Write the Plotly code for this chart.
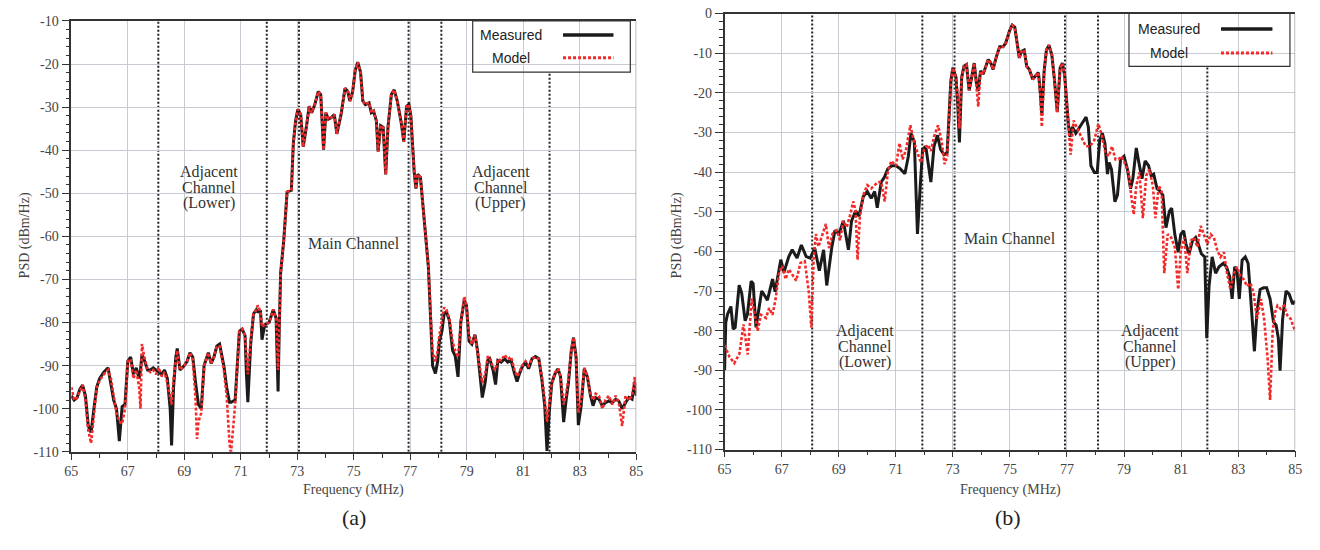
import plotly.graph_objects as go

# ---------------- data ----------------
FREQ_A = [65.0,65.1,65.2,65.3,65.4,65.5,65.6,65.7,65.8,65.9,
          66.0,66.15,66.3,66.4,66.5,66.6,66.7,66.8,66.9,67.0,
          67.1,67.2,67.3,67.4,67.45,67.5,67.6,67.7,67.8,67.9,
          68.0,68.1,68.2,68.3,68.4,68.5,68.55,68.62,68.7,68.75,
          68.85,69.0,69.1,69.2,69.3,69.4,69.45,69.5,69.6,69.7,
          69.8,69.85,69.95,70.05,70.15,70.25,70.4,70.5,70.6,70.65,
          70.8,70.9,70.95,71.05,71.15,71.2,71.25,71.35,71.45,71.55,
          71.6,71.7,71.75,71.85,72.0,72.1,72.15,72.25,72.32,72.36,
          72.41,72.52,72.64,72.79,72.86,72.94,73.02,73.12,73.21,73.32,
          73.42,73.51,73.62,73.74,73.83,73.93,74.01,74.10,74.21,74.31,
          74.40,74.55,74.69,74.79,74.86,74.96,75.05,75.14,75.24,75.32,
          75.41,75.54,75.62,75.70,75.80,75.86,75.95,76.04,76.13,76.21,
          76.33,76.43,76.54,76.67,76.77,76.87,76.95,77.02,77.08,77.14,
          77.2,77.26,77.36,77.46,77.58,77.64,77.72,77.79,77.89,77.97,
          78.03,78.12,78.2,78.28,78.38,78.5,78.59,78.69,78.79,78.91,
          78.99,79.08,79.18,79.29,79.38,79.47,79.55,79.65,79.74,79.81,
          79.93,80.02,80.1,80.22,80.34,80.45,80.57,80.69,80.78,80.87,
          80.96,81.08,81.19,81.31,81.43,81.55,81.66,81.76,81.84,81.92,
          82.01,82.13,82.23,82.32,82.43,82.52,82.6,82.7,82.78,82.87,
          82.95,83.05,83.16,83.27,83.38,83.47,83.56,83.68,83.8,83.91,
          84.03,84.15,84.27,84.38,84.5,84.62,84.74,84.85,84.95,85.0]

MEAS_A = [-97,-98,-97.5,-95.5,-94.5,-97,-104,-105.5,-100,-95,
          -93,-91.5,-90.5,-94,-98,-100,-107.5,-99.5,-99,-89,
          -88,-92,-90.5,-93,-91,-87.5,-89,-91,-91,-90.5,
          -91,-91.5,-92,-91,-93,-100,-108.5,-95,-88,-86,
          -91,-90,-89,-87,-88,-94,-97,-99,-100,-90,
          -88,-87,-89.5,-88,-85.5,-85,-90,-95,-98.5,-98.5,
          -98,-88,-82,-81.5,-83,-92,-98.5,-85,-78,-77,
          -77.5,-77.5,-84,-80.5,-80,-78,-77,-79,-96,-82,
          -68.5,-61,-49.7,-49.3,-38.4,-33.2,-30.5,-31.7,-39.2,-34.7,
          -29.8,-31.3,-29.4,-26.4,-27.1,-39.9,-31.3,-32.8,-32.4,-31.7,
          -36.2,-31.7,-25.6,-26.4,-28.6,-26.4,-21.5,-19.6,-21.9,-28.6,
          -29.4,-29,-31.3,-30.9,-33.2,-40.3,-34.3,-34.7,-45.6,-34.7,
          -27.1,-26,-28.6,-33.2,-38,-29.8,-29.4,-32,-39.2,-45.2,
          -48.9,-45.6,-46.3,-53.5,-61,-67,-79,-90,-91.8,-89,
          -84.3,-82,-77.9,-77.5,-79.4,-86.5,-87.7,-92.6,-79.8,-74.9,
          -76,-84.3,-85,-82.8,-86.5,-91.8,-97.4,-94,-88.8,-88.4,
          -91,-94.4,-88.8,-89.2,-88.4,-89.2,-88.8,-91.8,-93.7,-91.8,
          -90.3,-89.2,-90.7,-88.4,-87.9,-88.4,-93.3,-99.3,-109.8,-100.8,
          -94,-91.8,-90.7,-92.6,-103.1,-97.8,-94,-86.5,-83.5,-88,
          -103.8,-99.3,-90.7,-92.6,-97,-99.3,-97.4,-97.8,-99.3,-98.6,
          -98.2,-98.6,-97.8,-98.2,-100,-98.6,-97.4,-97.8,-93.7,-97]

MODEL_A = [-95,-98,-97.5,-96,-94.5,-98,-105,-108,-101,-95,
           -93.5,-92,-91,-93,-97,-101,-103,-103.5,-100,-89,
           -88.5,-93,-91,-95,-100,-85,-88.5,-91,-91.5,-91,
           -92,-90.5,-92.5,-91.5,-94,-98,-99,-93,-88,-86.5,
           -91,-90,-89,-87,-88.5,-98,-107,-103,-101,-90,
           -88,-87,-89.5,-88,-85.5,-85.5,-91,-97,-108,-110.5,
           -99,-88,-82,-81.5,-83,-88,-92,-84,-78,-77,
           -76,-77.5,-81,-80.5,-80,-78,-77,-79,-91,-82,
           -68.5,-61,-49.7,-49.3,-38.4,-33.2,-30.5,-31.7,-39.2,-34.7,
           -29.8,-31.3,-29.4,-26.4,-27.1,-39.9,-31.3,-32.8,-32.4,-31.7,
           -36.2,-31.7,-25.6,-26.4,-28.6,-26.4,-21.5,-19.6,-21.9,-28.6,
           -29.4,-29,-31.3,-30.9,-33.2,-40.3,-34.3,-34.7,-45.6,-34.7,
           -27.1,-26,-28.6,-33.2,-38,-29.8,-29.4,-32,-39.2,-45.2,
           -48.9,-45.6,-46.3,-53.5,-61,-67,-78,-87,-89,-86.5,
           -83,-80,-76.5,-77,-79,-84.5,-86.5,-88,-80,-74,
           -76,-83,-85,-83,-86.5,-90,-94,-92,-88,-88,
           -90.5,-91,-88.5,-88.8,-87.5,-88.5,-88,-91,-92.5,-91.5,
           -90,-89,-90,-88.4,-88,-88.5,-92.5,-98,-103,-99,
           -94,-91.5,-90.7,-92.5,-99,-96.5,-93,-86.5,-83.5,-88.5,
           -101,-98,-90.5,-92.5,-96.5,-98,-96.5,-97,-100,-98,
           -97,-99,-97,-98.5,-104,-97,-98,-97,-92.5,-96.5]

FREQ_B_MEAS = [65.0,65.04,65.1,65.22,65.3,65.37,65.51,65.6,65.72,65.8,
               65.93,66.0,66.1,66.2,66.3,66.39,66.5,66.68,66.77,66.97,
               67.08,67.25,67.37,67.54,67.69,67.86,68.0,68.16,68.32,68.47,
               68.58,68.76,68.87,69.01,69.16,69.34,69.45,69.59,69.71,69.86,
               70.0,70.14,70.26,70.35,70.49,70.6,70.72,70.86,71.01,71.16,
               71.32,71.44,71.53,71.65,71.76,71.86,71.94,72.05,72.23,72.34,
               72.46,72.57,72.69,72.8,72.88,72.93,73.0,73.11,73.17,73.23,
               73.31,73.39,73.48,73.57,73.66,73.75,73.83,73.89,73.97,74.06,
               74.14,74.24,74.33,74.41,74.53,74.64,74.76,74.85,74.99,75.08,
               75.17,75.24,75.33,75.4,75.5,75.59,75.68,75.8,75.91,76.0,
               76.06,76.12,76.2,76.28,76.37,76.47,76.56,76.66,76.76,76.84,
               76.92,76.98,77.05,77.11,77.19,77.31,77.46,77.67,77.75,77.84,
               77.96,78.06,78.15,78.24,78.33,78.42,78.48,78.56,78.68,78.77,
               78.88,79.0,79.12,79.23,79.31,79.43,79.52,79.63,79.74,79.86,
               79.95,80.04,80.16,80.24,80.36,80.47,80.59,80.67,80.78,80.9,
               80.99,81.09,81.17,81.28,81.4,81.51,81.6,81.71,81.83,81.9,
               81.98,82.09,82.21,82.33,82.48,82.59,82.7,82.79,82.88,82.96,
               83.04,83.14,83.25,83.35,83.46,83.57,83.66,83.77,83.89,84.0,
               84.12,84.24,84.33,84.41,84.47,84.56,84.68,84.79,84.91,85.0]

PSD_B_MEAS = [-90,-78,-75.9,-73.9,-79.6,-79.2,-68.5,-70.6,-77.5,-75.9,
              -67.5,-68.1,-79.2,-75.1,-70,-71,-72.3,-67,-70.2,-62.1,
              -65.3,-61.3,-59.6,-61.7,-58.4,-61.3,-61.7,-59.2,-64.9,-59.6,
              -68.6,-58.8,-54.7,-55.6,-52.3,-59.6,-52.3,-49.8,-51.1,-46.2,
              -44.9,-46.6,-44.9,-49,-42.5,-41.3,-39.2,-38.4,-38.4,-39.2,
              -40.4,-36,-30.2,-32.3,-55.6,-43.3,-34.3,-33.5,-42.5,-33.5,
              -30.7,-34.3,-35.6,-35.1,-25,-17,-13.7,-16.1,-22.7,-32.5,
              -16.1,-13.3,-12.9,-19.4,-16.1,-12.5,-17.8,-19.5,-14.5,-15.3,
              -13.7,-11.6,-12.5,-14.1,-10.8,-8.4,-8.4,-7.5,-4.3,-2.9,
              -3.4,-7.1,-11.2,-9.6,-9.2,-13.3,-14.1,-16.6,-15.7,-14.9,
              -19.4,-25.5,-14.5,-9.2,-8,-10.4,-16.6,-24.8,-13.7,-12.5,
              -15.7,-22,-28,-31.1,-28.6,-30.2,-28.6,-26.1,-28.6,-38.4,
              -40.1,-40.1,-31.9,-30.2,-32.7,-40.5,-37.6,-39.3,-47.5,-45.8,
              -36.8,-36,-39.3,-44.2,-41.7,-33.9,-37.6,-41.7,-37.2,-38.4,
              -40.9,-40.5,-44.2,-44.6,-45.8,-54,-49.9,-49.1,-55.7,-60.2,
              -55.7,-54.8,-58.1,-60.6,-57.3,-56.5,-58.1,-60.6,-61.4,-81.9,
              -68.8,-61.4,-65.5,-63.9,-63,-63.9,-66.3,-72,-63.9,-64.7,
              -72,-62.2,-61.4,-63,-73.7,-85.2,-75.3,-69.6,-69.2,-69.2,
              -72,-77.8,-78.6,-81.9,-90.1,-77,-70,-70.8,-73.3,-72.5]

FREQ_B_MODEL = [65.0,65.17,65.34,65.52,65.66,65.81,65.95,66.04,66.16,66.27,
                66.45,66.56,66.68,66.79,66.91,67.02,67.14,67.25,67.39,67.51,
                67.66,67.81,67.95,68.04,68.12,68.2,68.29,68.41,68.55,68.66,
                68.78,68.93,69.05,69.16,69.28,69.39,69.51,69.59,69.66,69.74,
                69.86,70.0,70.14,70.26,70.38,70.49,70.61,70.72,70.84,71.01,
                71.13,71.24,71.36,71.51,71.65,71.76,71.88,71.99,72.13,72.23,
                72.34,72.48,72.6,72.71,72.8,72.88,72.93,73.0,73.11,73.17,
                73.23,73.31,73.39,73.48,73.57,73.66,73.75,73.83,73.89,73.97,
                74.06,74.14,74.24,74.33,74.41,74.53,74.64,74.76,74.85,74.99,
                75.08,75.17,75.24,75.33,75.4,75.5,75.59,75.68,75.8,75.91,
                76.0,76.06,76.12,76.2,76.28,76.37,76.47,76.56,76.66,76.76,
                76.84,76.92,76.98,77.05,77.13,77.23,77.34,77.52,77.66,77.81,
                77.96,78.1,78.22,78.35,78.47,78.58,78.7,78.81,78.91,79.02,
                79.16,79.25,79.34,79.43,79.54,79.66,79.78,79.89,80.01,80.1,
                80.22,80.32,80.41,80.53,80.65,80.78,80.9,80.99,81.11,81.22,
                81.34,81.46,81.57,81.69,81.8,81.92,82.04,82.15,82.27,82.38,
                82.5,82.61,82.73,82.85,82.96,83.08,83.2,83.31,83.43,83.54,
                83.66,83.8,83.91,84.03,84.12,84.21,84.3,84.38,84.49,84.61,
                84.72,84.84,85.0]

PSD_B_MODEL = [-83.7,-86.6,-88.2,-85.8,-78.4,-86,-71.9,-75.1,-80,-76,
               -76.8,-74.3,-76,-71.9,-65.3,-63.7,-67,-64.5,-66.2,-67.4,
               -62.9,-62.5,-70.2,-79.2,-62.1,-55.6,-58.8,-56.4,-53.1,-59.2,
               -55.6,-54.7,-57.2,-52.3,-53.9,-51.1,-47.4,-49.8,-62.1,-51.5,
               -45.8,-43.3,-44.1,-43.3,-42.5,-42.5,-47.4,-40,-37.2,-38.4,
               -32.7,-36.8,-34.3,-28.2,-32.7,-35.1,-37.6,-34.3,-33.1,-34.7,
               -31.1,-28.2,-31.9,-38,-36,-25,-17,-13.7,-16.1,-21,
               -29,-16.1,-13.3,-12.9,-19.4,-16.1,-12.5,-18.5,-23.5,-14.5,
               -15.3,-13.7,-11.6,-12.5,-14.1,-10.8,-8.4,-8.4,-7.5,-4.3,
               -2.9,-3.4,-7.1,-11.2,-9.6,-9.2,-13.3,-14.1,-16.6,-15.7,
               -14.9,-20,-28.6,-14.5,-9.2,-8,-10.4,-16.6,-25,-13.7,
               -12.5,-15.7,-22,-27.8,-35.6,-27,-28.6,-31.1,-33.5,-33.5,
               -31.9,-27.8,-30.7,-35.2,-36,-33.5,-36.8,-36.8,-36,-37.6,
               -40.1,-45.8,-50.7,-43.4,-40.1,-51.6,-40.9,-39.3,-43.4,-51.6,
               -43.4,-45,-65.5,-55.7,-56.5,-58.9,-69.6,-59.8,-56.5,-65.5,
               -57.3,-56.5,-58.9,-53.6,-55.7,-58.1,-55.7,-56.5,-59.8,-61.4,
               -60.2,-65.5,-69.6,-65.5,-63.9,-66.3,-67.1,-68.8,-68,-70.4,
               -77,-72,-77,-86.8,-97.5,-80.2,-75.3,-73.7,-74.5,-73.7,
               -76.1,-77,-80.2]

X_TICKS = [65, 67, 69, 71, 73, 75, 77, 79, 81, 83, 85]
Y_TICKS_A = [-110, -100, -90, -80, -70, -60, -50, -40, -30, -20, -10]
Y_TICKS_B = [-110, -100, -90, -80, -70, -60, -50, -40, -30, -20, -10, 0]

# channel boundaries (MHz); the last one starts below the legend
EDGES_A = [68.08, 71.92, 73.06, 76.94, 78.1]
EDGE_A_LAST = 81.93
EDGES_B = [68.07, 71.93, 73.06, 76.93, 78.09]
EDGE_B_LAST = 81.92

SERIES = ["Measured", "Model"]
PANEL_LABELS = ["(a)", "(b)"]

# ---------------- figure ----------------
W, H = 1320, 550
def px(x): return x / W
def py(y): return 1 - y / H

BLACK = "#1b1b1b"
RED = "#f22a2a"
GRID = "#c8cbd4"
SERIF = "Liberation Serif"
SANS = "Liberation Sans"

fig = go.Figure()
fig.add_trace(go.Scatter(x=FREQ_A, y=MEAS_A, mode="lines", name=SERIES[0],
                         line=dict(color=BLACK, width=3), xaxis="x", yaxis="y"))
fig.add_trace(go.Scatter(x=FREQ_A, y=MODEL_A, mode="lines", name=SERIES[1],
                         line=dict(color=RED, width=2.6, dash="3px,2px"), xaxis="x", yaxis="y"))
fig.add_trace(go.Scatter(x=FREQ_B_MEAS, y=PSD_B_MEAS, mode="lines", name=SERIES[0],
                         line=dict(color=BLACK, width=3), xaxis="x2", yaxis="y2"))
fig.add_trace(go.Scatter(x=FREQ_B_MODEL, y=PSD_B_MODEL, mode="lines", name=SERIES[1],
                         line=dict(color=RED, width=2.6, dash="3px,2px"), xaxis="x2", yaxis="y2"))

tickfont = dict(family=SERIF, size=14, color="#444")

def xaxis_cfg(domain, anchor):
    return dict(domain=domain, anchor=anchor, range=[65, 85],
                tickmode="array", tickvals=X_TICKS, ticktext=[str(v) for v in X_TICKS],
                showgrid=True, gridcolor=GRID, gridwidth=1, zeroline=False,
                showline=True, linecolor="#333", linewidth=1.5, mirror=True,
                ticks="outside", ticklen=6, tickwidth=1, tickcolor="#333",
                minor=dict(tickmode="linear", tick0=65, dtick=1, ticks="outside",
                           ticklen=4, tickcolor="#333", showgrid=False),
                tickfont=tickfont)

def yaxis_cfg(domain, anchor, rng, ticks):
    return dict(domain=domain, anchor=anchor, range=rng,
                tickmode="array", tickvals=ticks, ticktext=[str(v) for v in ticks],
                showgrid=True, gridcolor=GRID, gridwidth=1, zeroline=False,
                showline=True, linecolor="#333", linewidth=1.5, mirror=False,
                ticks="outside", ticklen=8, tickwidth=1, tickcolor="#333",
                minor=dict(tickmode="linear", tick0=-110, dtick=2, ticks="outside",
                           ticklen=4, tickcolor="#333", showgrid=False),
                tickfont=tickfont)

fig.update_layout(
    width=W, height=H, margin=dict(l=0, r=0, t=0, b=0),
    paper_bgcolor="white", plot_bgcolor="white", showlegend=False,
    xaxis=xaxis_cfg([px(65), px(636)], "y"),
    yaxis=yaxis_cfg([py(457.3), py(14.3)], "x", [-110, -10], Y_TICKS_A),
    xaxis2=xaxis_cfg([px(725.3), px(1302)], "y2"),
    yaxis2=yaxis_cfg([py(455), py(6.7)], "x2", [-110, 0], Y_TICKS_B),
)

shapes = []
def vline(xv, xr, yr, y0, y1):
    shapes.append(dict(type="line", xref=xr, yref=yr, x0=xv, x1=xv, y0=y0, y1=y1,
                       line=dict(color="#222", width=2, dash="2px,2px"), layer="below"))

for e in EDGES_A:
    vline(e, "x", "y", -110, -10)
vline(EDGE_A_LAST, "x", "y", -110, -21.9)
for e in EDGES_B:
    vline(e, "x2", "y2", -110, 0)
vline(EDGE_B_LAST, "x2", "y2", -110, -13.1)

# right borders
for xr, yr in [("x", "y domain"), ("x2", "y2 domain")]:
    shapes.append(dict(type="line", xref=xr, yref=yr, x0=85, x1=85, y0=0, y1=1,
                       line=dict(color="#8c8c8c", width=1.2)))

annotations = []

def legend(x0, x1, y0, y1, tx, ty1, ty2, lx0, lx1):
    shapes.append(dict(type="rect", xref="paper", yref="paper",
                       x0=px(x0), x1=px(x1), y0=py(y1), y1=py(y0),
                       line=dict(color="#333", width=1.2), fillcolor="rgba(0,0,0,0)"))
    shapes.append(dict(type="line", xref="paper", yref="paper",
                       x0=px(lx0), x1=px(lx1), y0=py(ty1), y1=py(ty1),
                       line=dict(color=BLACK, width=3.5)))
    shapes.append(dict(type="line", xref="paper", yref="paper",
                       x0=px(lx0), x1=px(lx1), y0=py(ty2), y1=py(ty2),
                       line=dict(color=RED, width=3, dash="3px,2px")))
    for name, yy in zip(SERIES, [ty1, ty2]):
        annotations.append(dict(text=name, xref="paper", yref="paper", x=px(tx), y=py(yy),
                                xanchor="center", yanchor="middle", showarrow=False,
                                font=dict(family=SANS, size=14, color="#222")))

legend(470.7, 630, 14.3, 67, 509, 28.7, 52.3, 562, 613)
legend(1134, 1296.7, 6.7, 61, 1174, 22.7, 47.3, 1227, 1279)

def label(text, xr, yr, xv, yv, size=16):
    annotations.append(dict(text=text, xref=xr, yref=yr, x=xv, y=yv, xanchor="center",
                            yanchor="middle", showarrow=False,
                            font=dict(family=SERIF, size=size, color="#333")))

# panel a channel labels
for t, yv in zip(["Adjacent", "Channel", "(Lower)"], [-45.0, -48.6, -52.3]):
    label(t, "x", "y", 69.89, yv)
for t, yv in zip(["Adjacent", "Channel", "(Upper)"], [-45.0, -48.6, -52.3]):
    label(t, "x", "y", 80.2, yv)
label("Main Channel", "x", "y", 75.0, -61.7)
# panel b channel labels
for t, yv in zip(["Adjacent", "Channel", "(Lower)"], [-80.0, -84.0, -87.9]):
    label(t, "x2", "y2", 69.91, yv)
for t, yv in zip(["Adjacent", "Channel", "(Upper)"], [-80.0, -84.0, -87.9]):
    label(t, "x2", "y2", 79.92, yv)
label("Main Channel", "x2", "y2", 74.99, -56.8)

# axis titles
for xx in [18, 677]:
    annotations.append(dict(text="PSD (dBm/Hz)", xref="paper", yref="paper", x=px(xx), y=py(235),
                            textangle=-90, xanchor="center", yanchor="middle", showarrow=False,
                            font=dict(family=SERIF, size=14, color="#444")))
for xx in [350, 1014]:
    annotations.append(dict(text="Frequency (MHz)", xref="paper", yref="paper", x=px(xx), y=py(497),
                            xanchor="center", yanchor="middle", showarrow=False,
                            font=dict(family=SERIF, size=14, color="#444")))
for t, xx in zip(PANEL_LABELS, [351, 1012]):
    annotations.append(dict(text=t, xref="paper", yref="paper", x=px(xx), y=py(525),
                            xanchor="center", yanchor="middle", showarrow=False,
                            font=dict(family=SERIF, size=22, color="#222")))

fig.update_layout(shapes=shapes, annotations=annotations)
fig.write_html("out.html")
